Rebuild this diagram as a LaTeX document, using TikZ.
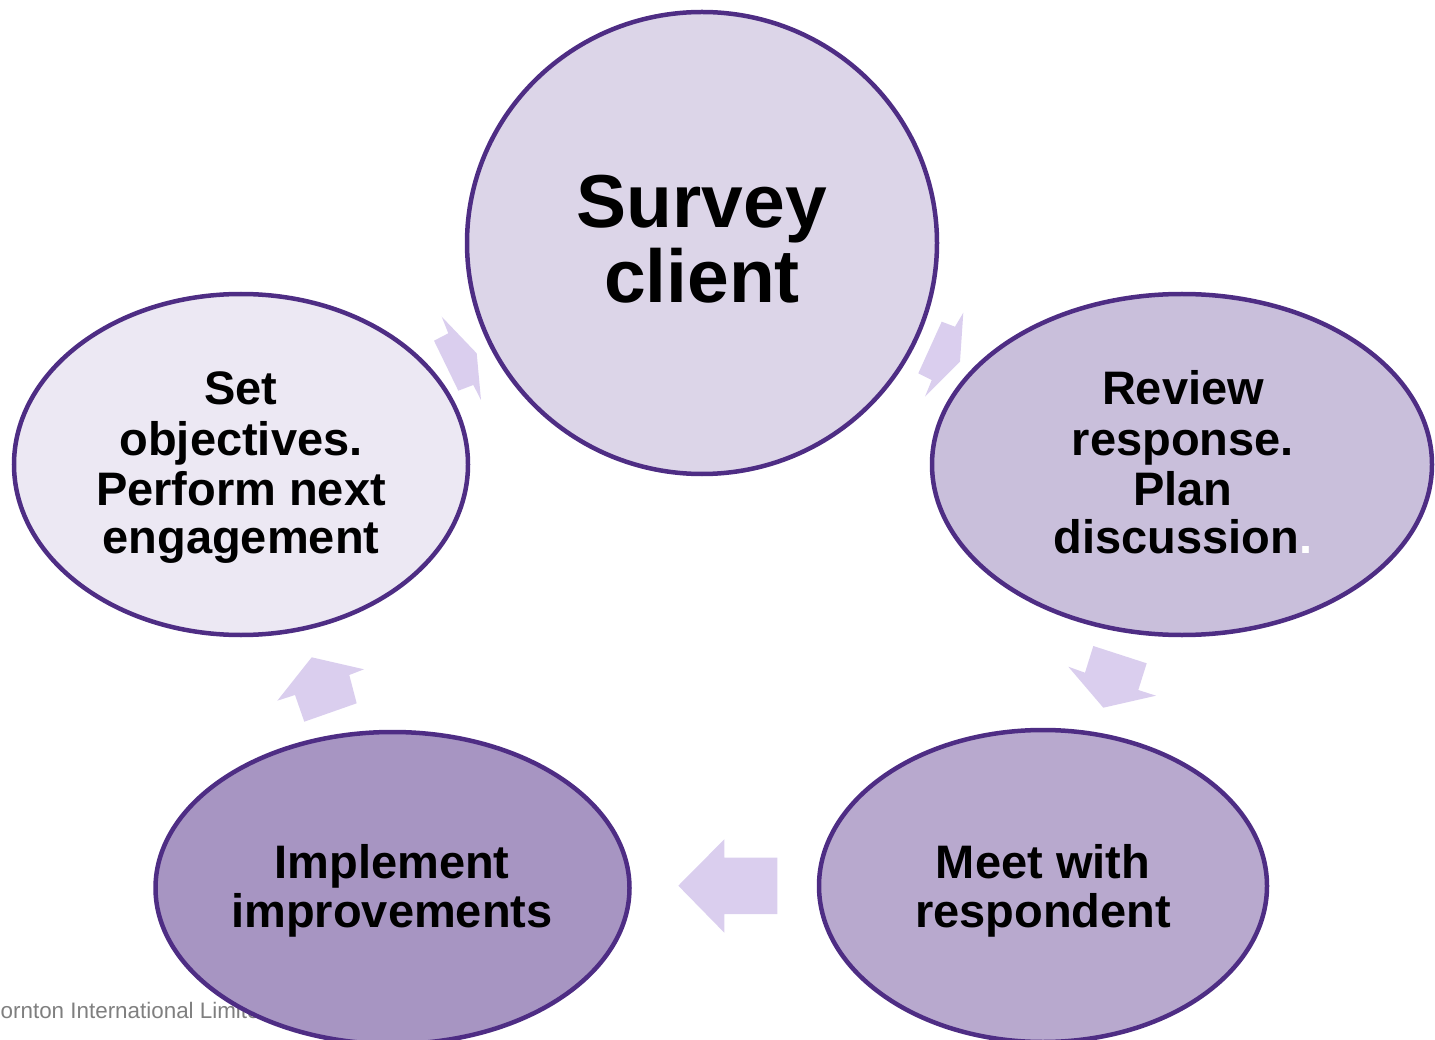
\documentclass[tikz,border=0pt]{standalone}
\usepackage{fontspec}
\setmainfont{Liberation Sans}
\usetikzlibrary{shapes.geometric}
\definecolor{gtborder}{HTML}{4E2D84}
\definecolor{fillA}{HTML}{DCD5E8}
\definecolor{fillB}{HTML}{ECE8F3}
\definecolor{fillC}{HTML}{C9BFDB}
\definecolor{fillD}{HTML}{B8A9CE}
\definecolor{fillE}{HTML}{A795C2}
\definecolor{arrowfill}{HTML}{DACEEE}
\definecolor{footgray}{HTML}{7F7F7F}
\tikzset{
  bubble/.style={ellipse, draw=gtborder, line width=4.5pt, inner sep=0pt},
  bigtxt/.style={anchor=base, inner sep=0pt, font=\fontsize{75}{75}\selectfont\bfseries},
  txt/.style={anchor=base, inner sep=0pt, font=\fontsize{47}{50}\selectfont\bfseries},
  blockarrow/.style={fill=arrowfill, draw=none}
}
\begin{document}
\begin{tikzpicture}[x=1pt,y=-1pt]
\useasboundingbox (0,0) rectangle (1435,1040);
% footer
\node[anchor=base west, inner sep=0pt, text=footgray, font=\fontsize{22.4}{25}\selectfont] (foot) at (0.5,1018) {\llap{Grant Th}ornton International Limited};
% bubbles
\node[bubble, fill=fillA, minimum width=470pt, minimum height=462pt] (survey) at (702,243) {};
\node[bubble, fill=fillB, minimum width=454pt, minimum height=341pt] (setobj) at (241,464.5) {};
\node[bubble, fill=fillC, minimum width=500pt, minimum height=341pt] (review) at (1182,464.5) {};
\node[bubble, fill=fillD, minimum width=448pt, minimum height=312pt] (meet) at (1043,886) {};
\node[bubble, fill=fillE, minimum width=474pt, minimum height=312pt] (impl) at (392.5,888) {};
% texts
\node[bigtxt] (s1) at (702,228) {Survey};
\node[bigtxt] (s2) at (702,303) {client};
\node[txt] (o1) at (241,405) {Set};
\node[txt] (o2) at (241,455) {objectives.};
\node[txt] (o3) at (241,505) {Perform next};
\node[txt] (o4) at (241,553) {engagement};
\node[txt] (r1) at (1183,405) {Review};
\node[txt] (r2) at (1183,455) {response.};
\node[txt] (r3) at (1183,505) {Plan};
\node[txt] (r4) at (1183,553) {discussion\textcolor{white}{.}};
\node[txt] (m1) at (1043,878) {Meet with};
\node[txt] (m2) at (1043,927) {respondent};
\node[txt] (i1) at (392,878) {Implement};
\node[txt] (i2) at (392,927) {improvements};
% block arrows
\fill[blockarrow] (441.7,316.7) -- (448.3,333.3) -- (434,340.7) -- (458.3,390.7) -- (473.3,385) -- (481,400) -- (476.7,353.3) -- cycle;
\fill[blockarrow] (963.3,312.7) -- (960,361.7) -- (925,396.7) -- (931.7,380) -- (918.3,373.3) -- (941.7,321.7) -- (955,326.7) -- cycle;
\fill[blockarrow] (1093.3,646) -- (1146.7,663.3) -- (1138.3,690) -- (1156,695.7) -- (1103.3,707.7) -- (1068.3,666.7) -- (1085,672.7) -- cycle;
\fill[blockarrow] (678.3,885.7) -- (724.3,839.3) -- (724.3,857.7) -- (777.3,857.7) -- (777.3,914) -- (724.3,914) -- (724.3,932.7) -- cycle;
\fill[blockarrow] (311.7,657.3) -- (364,669.3) -- (349.3,675) -- (356.7,703.3) -- (304.3,721.7) -- (295,695) -- (277.3,700.7) -- cycle;
\end{tikzpicture}
\end{document}
